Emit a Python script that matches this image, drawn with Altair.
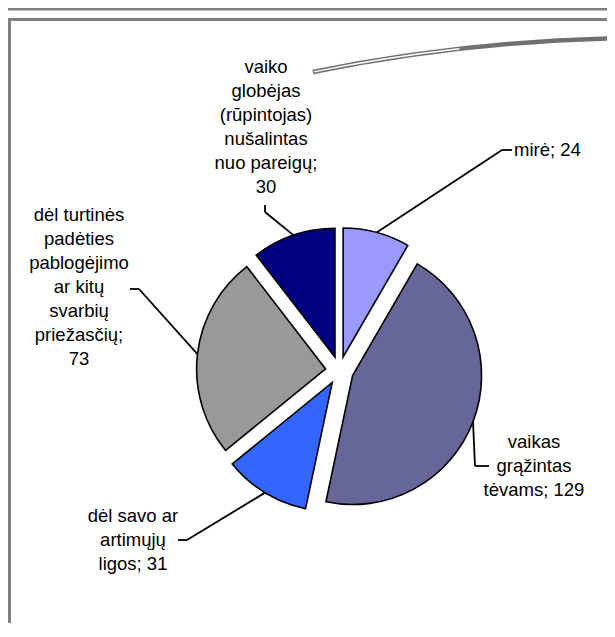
import altair as alt
import pandas as pd

# ---------------- data ----------------
categories = [
    "mirė",
    "vaikas grąžintas tėvams",
    "dėl savo ar artimųjų ligos",
    "dėl turtinės padėties pablogėjimo ar kitų svarbių priežasčių",
    "vaiko globėjas (rūpintojas) nušalintas nuo pareigų",
]
values = [24, 129, 31, 73, 30]
label_lines = [
    "mirė;",
    "vaikas\ngrąžintas\ntėvams;",
    "dėl savo ar\nartimųjų\nligos;",
    "dėl turtinės\npadėties\npablogėjimo\nar kitų\nsvarbių\npriežasčių;",
    "vaiko\nglobėjas\n(rūpintojas)\nnušalintas\nnuo pareigų;",
]
value_sep = [" ", " ", " ", "\n", "\n"]
colors = ["#9999FF", "#666699", "#3366FF", "#999999", "#000080"]

# ---------------- layout (pixels, chart coords) ----------------
CX, CY = 331.5, 362.5      # pie centre
R = 129                    # pie radius
EXPLODE = 14               # slice explosion distance
label_x = [506, 526, 125, 71, 258]
label_y = [142, 434, 508, 207, 59]   # centre of first text line
label_align = ["left", "center", "center", "center", "center"]
bend_x = [494, 467, 179, 131, 257]
bend_y = [142, 458, 532, 281, 204]
end_x = [504, 481, 170, 122, 257]
end_y = [142, 458, 532, 281, 197]

W, H = 599, 615
GRAY = "#808080"
FONT = "Liberation Sans"

df = pd.DataFrame({
    "i": list(range(len(categories))),
    "cat": categories,
    "value": values,
    "label": [l + s + str(v) for l, s, v in zip(label_lines, value_sep, values)],
    "lx": label_x, "ly": label_y, "al": label_align,
    "bx": bend_x, "by": bend_y, "ex": end_x, "ey": end_y,
})

base = alt.Chart(df).transform_window(
    cum="sum(value)", sort=[alt.SortField("i")], frame=[None, 0]
).transform_joinaggregate(
    total="sum(value)"
).transform_calculate(
    t1="2*PI*datum.cum/datum.total",
    t0="2*PI*(datum.cum-datum.value)/datum.total",
).transform_calculate(
    mid="(datum.t0+datum.t1)/2"
).transform_calculate(
    cx=f"{CX}+{EXPLODE}*sin(datum.mid)",
    cy=f"{CY}-{EXPLODE}*cos(datum.mid)",
).transform_calculate(
    sx=f"datum.cx+{R}*sin(datum.mid)",
    sy=f"datum.cy-{R}*cos(datum.mid)",
)

slices = base.mark_arc(radius=R, stroke="black", strokeWidth=1.6).encode(
    theta=alt.Theta("t0:Q", scale=None, stack=False),
    theta2="t1:Q",
    x=alt.X("cx:Q", scale=None),
    y=alt.Y("cy:Q", scale=None),
    color=alt.Color("cat:N", scale=alt.Scale(domain=categories, range=colors), legend=None),
)

seg1 = base.mark_rule(color="black", strokeWidth=1.8).encode(
    x=alt.X("sx:Q", scale=None), y=alt.Y("sy:Q", scale=None),
    x2="bx:Q", y2="by:Q",
)
seg2 = base.mark_rule(color="black", strokeWidth=1.8).encode(
    x=alt.X("bx:Q", scale=None), y=alt.Y("by:Q", scale=None),
    x2="ex:Q", y2="ey:Q",
)

text_c = base.transform_filter("datum.al == 'center'").mark_text(
    align="center", baseline="middle", font=FONT, fontSize=18.5,
    lineBreak="\n", lineHeight=24, color="black",
).encode(x=alt.X("lx:Q", scale=None), y=alt.Y("ly:Q", scale=None), text="label:N")

text_l = base.transform_filter("datum.al == 'left'").mark_text(
    align="left", baseline="middle", font=FONT, fontSize=18.5,
    lineBreak="\n", lineHeight=24, color="black",
).encode(x=alt.X("lx:Q", scale=None), y=alt.Y("ly:Q", scale=None), text="label:N")

# ---------------- frame decorations ----------------
one = alt.Data(values=[{"k": 1}])
top_line = alt.Chart(one).mark_rule(color=GRAY, strokeWidth=3).encode(
    x=alt.value(0), x2=alt.value(W), y=alt.value(1))
box_top = alt.Chart(one).mark_rule(color=GRAY, strokeWidth=3).encode(
    x=alt.value(1.5), x2=alt.value(W), y=alt.value(11.5))
box_left = alt.Chart(one).mark_rule(color=GRAY, strokeWidth=3).encode(
    x=alt.value(1.5), y=alt.value(10), y2=alt.value(H))

CURL_X, CURL_Y, CURL_R = 642, 1717, 1687
curl = alt.Chart(one).mark_arc(
    radius=CURL_R + 2.2, radius2=CURL_R - 2.2, theta=6.082, theta2=6.2832,
    color="#707070",
).encode(x=alt.value(CURL_X), y=alt.value(CURL_Y))
curl_in = alt.Chart(one).mark_arc(
    radius=CURL_R + 0.7, radius2=CURL_R - 0.7, theta=6.0826, theta2=6.17,
    color="white",
).encode(x=alt.value(CURL_X), y=alt.value(CURL_Y))

chart = alt.layer(
    top_line, box_top, box_left, curl, curl_in, slices, seg1, seg2, text_c, text_l
).properties(
    width=W, height=H,
    autosize=alt.AutoSizeParams(type="none"),
    padding=0,
    background="white",
).configure_view(stroke=None)

chart.save("out.html", embed_options={"renderer": "svg", "actions": False})
